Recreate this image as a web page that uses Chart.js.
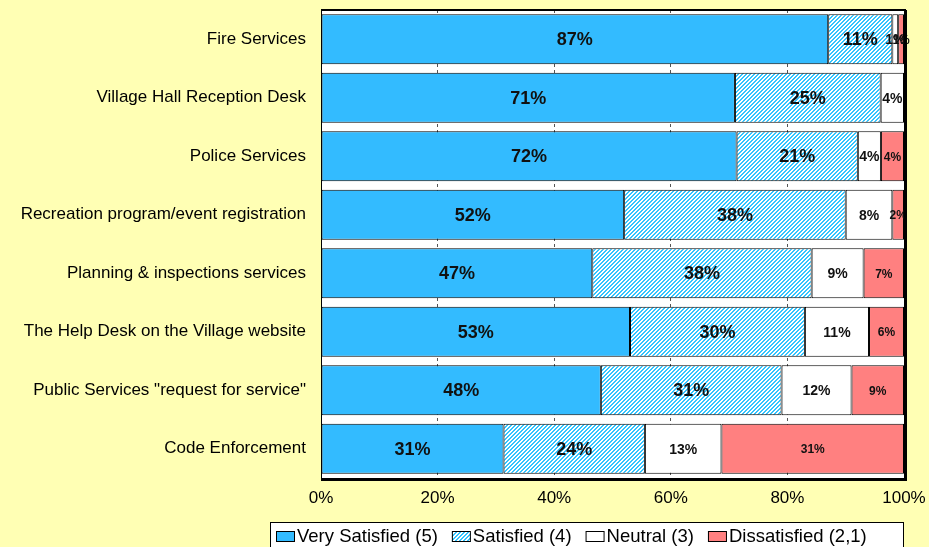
<!DOCTYPE html>
<html>
<head>
<meta charset="utf-8">
<script src="https://cdn.jsdelivr.net/npm/chart.js@4/dist/chart.umd.min.js"></script>
<style>
  html, body { margin: 0; padding: 0; background: #FFFFB4; }
  canvas { display: block; }
</style>
</head>
<body>
<canvas id="chart" width="929" height="547"></canvas>
<script>
const categories = [
  "Fire Services",
  "Village Hall Reception Desk",
  "Police Services",
  "Recreation program/event registration",
  "Planning & inspections services",
  "The Help Desk on the Village website",
  "Public Services \"request for service\"",
  "Code Enforcement"
];
const seriesNames = ["Very Satisfied (5)", "Satisfied (4)", "Neutral (3)", "Dissatisfied (2,1)"];
const verySatisfied = [87, 71, 72, 52, 47, 53, 48, 31];
const satisfied = [11, 25, 21, 38, 38, 30, 31, 24];
const neutral = [1, 4, 4, 8, 9, 11, 12, 13];
const dissatisfied = [1, 0, 4, 2, 7, 6, 9, 31];
const xTickValues = [0, 20, 40, 60, 80, 100];

const BLUE = "#33BBFF";
const HATCH_BLUE = "#33C4FF";
const RED = "#FF8080";

// crisp diagonal hatch for "Satisfied" (2px stripes, 4px period)
function makeHatch() {
  const c = document.createElement("canvas");
  c.width = 4; c.height = 4;
  const g = c.getContext("2d");
  g.fillStyle = "#ffffff";
  g.fillRect(0, 0, 4, 4);
  g.fillStyle = HATCH_BLUE;
  for (let y = 0; y < 4; y++) {
    g.fillRect((3 - y) % 4, y, 1, 1);
    g.fillRect((4 - y) % 4, y, 1, 1);
  }
  return g.createPattern(c, "repeat");
}
const hatch = makeHatch();

// bars are shown as a 100% stack of the printed percentages
const raw = [verySatisfied, satisfied, neutral, dissatisfied];
const totals = categories.map((_, i) => raw.reduce((s, arr) => s + arr[i], 0));
const share = arr => arr.map((v, i) => v / totals[i] * 100);

const fills = [BLUE, hatch, "#ffffff", RED];
const labelFonts = ["bold 18px Arial", "bold 18px Arial", "bold 14px Arial", "bold 12px Arial"];

const datasets = raw.map((arr, k) => ({
  label: seriesNames[k],
  data: share(arr),
  rawValues: arr,
  backgroundColor: fills[k],
  borderColor: "#000",
  borderWidth: 1,
  borderSkipped: false,
  barPercentage: 0.855,
  categoryPercentage: 1.0
}));

const backgroundPlugin = {
  id: "bg",
  beforeDraw(chart) {
    const { ctx, chartArea: a } = chart;
    ctx.save();
    ctx.fillStyle = "#FFFFB4";
    ctx.fillRect(0, 0, chart.width, chart.height);
    ctx.fillStyle = "#ffffff";
    ctx.fillRect(a.left, a.top, a.right - a.left, a.bottom - a.top);
    ctx.restore();
  }
};

const valueLabels = {
  id: "valueLabels",
  afterDatasetsDraw(chart) {
    const ctx = chart.ctx;
    ctx.save();
    ctx.textAlign = "center";
    ctx.textBaseline = "middle";
    ctx.fillStyle = "#111";
    chart.data.datasets.forEach((ds, k) => {
      const meta = chart.getDatasetMeta(k);
      ctx.font = labelFonts[k];
      meta.data.forEach((bar, i) => {
        const v = ds.rawValues[i];
        if (!v) return;
        ctx.fillText(v + "%", (bar.x + bar.base) / 2, bar.y + 1);
      });
    });
    ctx.restore();
  }
};

const frame = {
  id: "frame",
  afterDraw(chart) {
    const { ctx, chartArea: a } = chart;
    ctx.save();
    ctx.strokeStyle = "#000";
    ctx.lineWidth = 1;
    ctx.strokeRect(a.left + 0.5, a.top + 0.5, a.right - a.left, a.bottom - a.top);
    ctx.lineWidth = 2;
    ctx.beginPath();
    ctx.moveTo(a.left, a.top); ctx.lineTo(a.right + 2, a.top);
    ctx.stroke();
    ctx.lineWidth = 3;
    ctx.beginPath();
    ctx.moveTo(a.right + 1.5, a.top);
    ctx.lineTo(a.right + 1.5, a.bottom + 1.5);
    ctx.lineTo(a.left, a.bottom + 1.5);
    ctx.stroke();
    ctx.restore();
  }
};

const legendBox = {
  id: "legendBox",
  afterDraw(chart) {
    const ctx = chart.ctx;
    ctx.save();
    ctx.fillStyle = "#ffffff";
    ctx.fillRect(270, 522, 633, 30);
    ctx.strokeStyle = "#000";
    ctx.lineWidth = 1;
    ctx.strokeRect(270.5, 522.5, 633, 30);
    ctx.font = "18.5px Arial";
    ctx.textBaseline = "middle";
    ctx.textAlign = "left";
    let x = 276;
    const cy = 537;
    chart.data.datasets.forEach(ds => {
      ctx.fillStyle = ds.backgroundColor;
      ctx.fillRect(x, cy - 6, 19, 11);
      ctx.strokeStyle = "#000";
      ctx.strokeRect(x + 0.5, cy - 5.5, 18, 10);
      x += 21;
      ctx.fillStyle = "#000";
      ctx.fillText(ds.label, x, cy);
      x += ctx.measureText(ds.label).width + 14;
    });
    ctx.restore();
  }
};

new Chart(document.getElementById("chart").getContext("2d"), {
  type: "bar",
  data: { labels: categories, datasets },
  options: {
    indexAxis: "y",
    responsive: false,
    animation: false,
    layout: { padding: { top: 10, right: 25, left: 0, bottom: 0 } },
    plugins: {
      legend: { display: false },
      tooltip: { enabled: false }
    },
    scales: {
      x: {
        stacked: true,
        min: 0,
        max: 100,
        afterBuildTicks: s => { s.ticks = xTickValues.map(v => ({ value: v })); },
        afterFit: s => {
          s.height = 69;
          s.paddingLeft = 0; s.paddingRight = 0;
        },
        ticks: {
          callback: v => v + "%",
          font: { family: "Arial", size: 17 },
          color: "#000",
          padding: 10,
          maxRotation: 0
        },
        grid: {
          color: "#555",
          lineWidth: 1,
          drawTicks: false
        },
        border: { display: false, dash: [3, 3] }
      },
      y: {
        stacked: true,
        afterFit: s => {
          s.width = 321;
          s.paddingTop = 0; s.paddingBottom = 0;
        },
        ticks: {
          font: { family: "Arial", size: 17 },
          color: "#000",
          padding: 15
        },
        grid: { display: false, drawTicks: false },
        border: { display: false }
      }
    }
  },
  plugins: [backgroundPlugin, valueLabels, frame, legendBox]
});
</script>
</body>
</html>
